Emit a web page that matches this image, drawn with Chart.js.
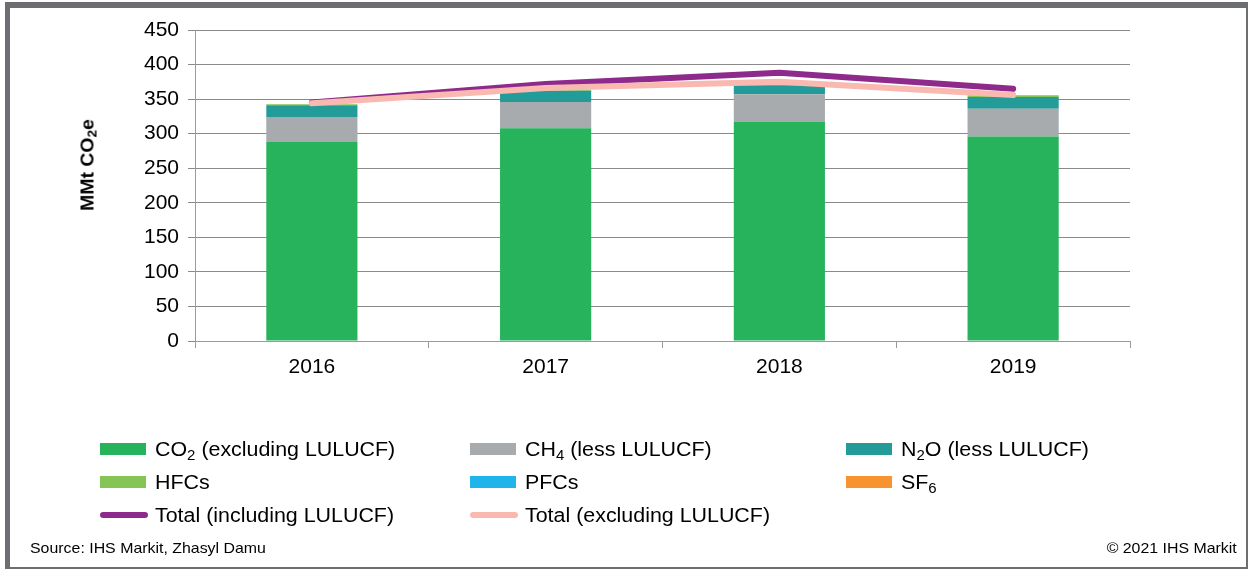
<!DOCTYPE html>
<html>
<head>
<meta charset="utf-8">
<script src="https://cdn.jsdelivr.net/npm/chart.js@4.4.0/dist/chart.umd.min.js"></script>
<style>
  body { margin: 0; background: #fff; font-family: "Liberation Sans", Arial, sans-serif; }
  #wrap { position: relative; width: 1250px; height: 569px; overflow: hidden; }
  #frame { position: absolute; left: 5px; top: 2px; width: 1236px; height: 559px;
    border-left: 5px solid #6d6e71; border-top: 6px solid #6d6e71;
    border-right: 2px solid #6d6e71; border-bottom: 2px solid #6d6e71; }
  #chartBox { position: absolute; left: 0; top: 0; width: 1250px; height: 569px; }
  #ytitle { position: absolute; left: 88px; top: 165px; transform: translate(-50%, -50%) rotate(-90deg) scaleX(1.08);
    font-weight: bold; font-size: 18px; white-space: nowrap; color: #000; }
  sub { font-size: 70%; vertical-align: -0.25em; line-height: 0; }
  .legend-item { position: absolute; font-size: 20px; color: #000; white-space: nowrap; height: 24px; line-height: 24px; }
  .legend-color { position: absolute; left: 0; top: 6px; width: 46px; height: 12px; }
  .legend-line { position: absolute; left: 0; top: 9px; width: 48px; height: 6px; border-radius: 3px; }
  .legend-text { position: absolute; left: 55px; top: 0; transform: scaleX(1.07); transform-origin: left center; }
  .foot { position: absolute; top: 539px; font-size: 15px; color: #000; transform: scaleX(1.06); }
</style>
</head>
<body>
<div id="wrap">
  <div id="frame"></div>
  <div id="chartBox"><canvas id="ghgChart" width="1250" height="569"></canvas></div>
  <div id="ytitle">MMt CO<sub>2</sub>e</div>
  <div id="legend"></div>
  <div class="foot" style="left:30px; transform-origin: left center;">Source: IHS Markit, Zhasyl Damu</div>
  <div class="foot" style="right:13px; transform-origin: right center;">© 2021 IHS Markit</div>
</div>
<script>
var years = ['2016', '2017', '2018', '2019'];

var co2 = [288, 308, 317, 296];
var ch4 = [36, 38, 40, 40];
var n2o = [17, 16, 13, 17];
var hfcs = [1.5, 1.5, 1.5, 2.5];
var pfcs = [0.1, 0.1, 0.1, 0.1];
var sf6 = [0.05, 0.05, 0.05, 0.05];
var totalIncl = [345, 372, 388, 365];
var totalExcl = [344, 366, 375, 356];

var barColors = ['#27b35c', '#a7abae', '#239b98', '#84c556', '#1fb5ea', '#f7942f'];
var lineColors = ['#8e2a8b', '#f9b9b0'];

var legendLabels = [
    'CO<sub>2</sub> (excluding LULUCF)', 'CH<sub>4</sub> (less LULUCF)', 'N<sub>2</sub>O (less LULUCF)',
    'HFCs', 'PFCs', 'SF<sub>6</sub>',
    'Total (including LULUCF)', 'Total (excluding LULUCF)'
];

function barSet(label, data, color) {
    return {
        type: 'bar', label: label, data: data, backgroundColor: color,
        stack: 'gases', order: 3, barPercentage: 0.39, categoryPercentage: 1
    };
}

function lineSet(label, data, color, order) {
    return {
        type: 'line', label: label, data: data, borderColor: color, backgroundColor: color,
        borderWidth: 6, pointRadius: 0, borderCapStyle: 'round', borderJoinStyle: 'round',
        stack: label, order: order, tension: 0
    };
}

var ctx = document.getElementById('ghgChart').getContext('2d');

var ghgChart = new Chart(ctx, {
    data: {
        labels: years,
        datasets: [
            barSet('CO2', co2, barColors[0]),
            barSet('CH4', ch4, barColors[1]),
            barSet('N2O', n2o, barColors[2]),
            barSet('HFCs', hfcs, barColors[3]),
            barSet('PFCs', pfcs, barColors[4]),
            barSet('SF6', sf6, barColors[5]),
            lineSet('Total incl', totalIncl, lineColors[0], 2),
            lineSet('Total excl', totalExcl, lineColors[1], 1)
        ]
    },
    options: {
        responsive: false,
        animation: false,
        layout: { padding: { left: 0, right: 120, top: 30, bottom: 0 } },
        plugins: { legend: { display: false }, tooltip: { enabled: false } },
        scales: {
            x: {
                stacked: true,
                grid: { offset: true, drawOnChartArea: false, drawTicks: true, tickLength: 7, color: '#9a9a9a' },
                border: { color: '#9a9a9a' },
                ticks: { color: '#000', font: { family: 'Liberation Sans', size: 21 }, padding: 7 },
                afterFit: function (scale) { scale.height = 228; }
            },
            y: {
                stacked: true,
                min: 0, max: 450,
                ticks: { stepSize: 50, color: '#000', font: { family: 'Liberation Sans', size: 21 }, padding: 9 },
                grid: { color: '#8a8a8a', tickLength: 7, lineWidth: 1 },
                border: { color: '#9a9a9a' },
                afterFit: function (scale) { scale.width = 195; }
            }
        }
    }
});

function buildLegend() {
    var legend = document.getElementById('legend');
    var colX = [100, 470, 846];
    var rowY = [437, 470, 503];
    var colors = barColors.concat(lineColors);
    legendLabels.forEach(function (label, i) {
        var item = document.createElement('div');
        item.classList.add('legend-item');
        item.style.left = colX[i % 3] + 'px';
        item.style.top = rowY[Math.floor(i / 3)] + 'px';
        var sw = document.createElement('div');
        sw.classList.add(i < 6 ? 'legend-color' : 'legend-line');
        sw.style.backgroundColor = colors[i];
        var txt = document.createElement('div');
        txt.classList.add('legend-text');
        txt.innerHTML = label;
        item.appendChild(sw);
        item.appendChild(txt);
        legend.appendChild(item);
    });
}

buildLegend();
</script>
</body>
</html>
